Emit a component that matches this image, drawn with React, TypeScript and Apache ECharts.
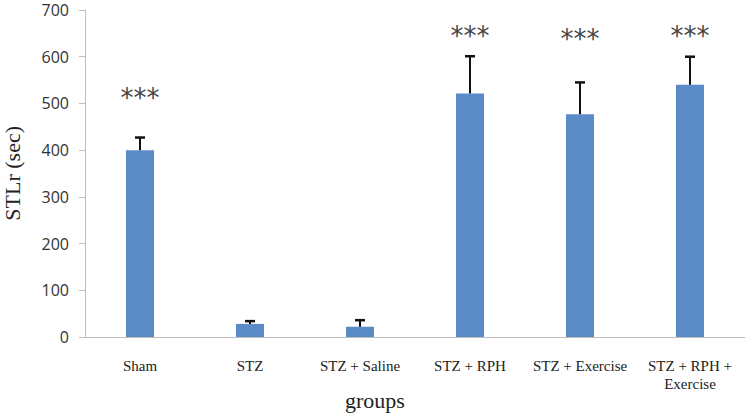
import React, { useEffect, useRef } from "react";
import * as echarts from "echarts";

const categories = ["Sham", "STZ", "STZ + Saline", "STZ + RPH", "STZ + Exercise", "STZ + RPH +\nExercise"];
const means = [400, 28, 22, 521, 477, 540];
const errors = [27, 6, 14, 80, 68, 60];
const starLabels = ["***", "", "", "***", "***", "***"];
const starY = [512, 0, 0, 645, 637, 645];
const yTicks = { min: 0, max: 700, interval: 100 };

export default function App() {
  const ref = useRef<HTMLDivElement>(null);
  useEffect(() => {
    if (!ref.current) return;
    const chart = echarts.init(ref.current, null, { renderer: "svg" });
    chart.setOption({
      animation: false,
      grid: { left: 85, right: 5, top: 10, bottom: 78 },
      xAxis: {
        type: "category",
        data: categories,
        axisLine: { lineStyle: { color: "#bfbfbf", width: 1 } },
        axisTick: { show: false },
        axisLabel: {
          fontFamily: "Liberation Serif",
          fontSize: 15,
          color: "#222",
          margin: 20,
          lineHeight: 18,
          interval: 0,
        },
      },
      yAxis: {
        type: "value",
        min: yTicks.min,
        max: yTicks.max,
        interval: yTicks.interval,
        splitLine: { show: false },
        axisLine: { show: true, lineStyle: { color: "#bfbfbf", width: 1 } },
        axisTick: { show: true, length: 6, lineStyle: { color: "#bfbfbf" } },
        axisLabel: {
          fontFamily: "Open Sans",
          fontSize: 16,
          color: "#333",
          margin: 16,
        },
      },
      graphic: [
        {
          type: "text",
          left: 1,
          top: 126,
          rotation: Math.PI / 2,
          style: {
            text: "STLr (sec)",
            font: "22px 'Liberation Serif'",
            fill: "#222",
          },
        },
        {
          type: "text",
          left: 345,
          top: 389,
          style: {
            text: "groups",
            font: "22px 'Liberation Serif'",
            fill: "#222",
          },
        },
      ],
      series: [
        {
          type: "bar",
          data: means,
          barWidth: 28,
          itemStyle: { color: "#5b8bc7" },
        },
        {
          type: "custom",
          data: means.map((m, i) => [i, m, m + errors[i]]),
          renderItem: (params: any, api: any) => {
            const x = api.value(0);
            const p0 = api.coord([x, api.value(1)]);
            const p1 = api.coord([x, api.value(2)]);
            return {
              type: "group",
              children: [
                {
                  type: "line",
                  shape: { x1: p0[0], y1: p0[1], x2: p1[0], y2: p1[1] },
                  style: { stroke: "#111", lineWidth: 2 },
                },
                {
                  type: "line",
                  shape: { x1: p1[0] - 5, y1: p1[1], x2: p1[0] + 5, y2: p1[1] },
                  style: { stroke: "#111", lineWidth: 2.5 },
                },
              ],
            };
          },
          z: 5,
        },
        {
          type: "custom",
          data: starY.map((y, i) => [i, y]),
          renderItem: (params: any, api: any) => {
            const label = starLabels[params.dataIndex];
            if (!label) return null;
            const p = api.coord([api.value(0), api.value(1)]);
            return {
              type: "text",
              x: p[0],
              y: p[1],
              style: {
                text: label,
                font: "26px 'DejaVu Sans'",
                fill: "#444",
                align: "center",
                verticalAlign: "middle",
              },
            };
          },
          z: 6,
        },
      ],
    });
    return () => chart.dispose();
  }, []);
  return <div ref={ref} style={{ width: 750, height: 415, position: "absolute", left: 0, top: 0 }} />;
}
